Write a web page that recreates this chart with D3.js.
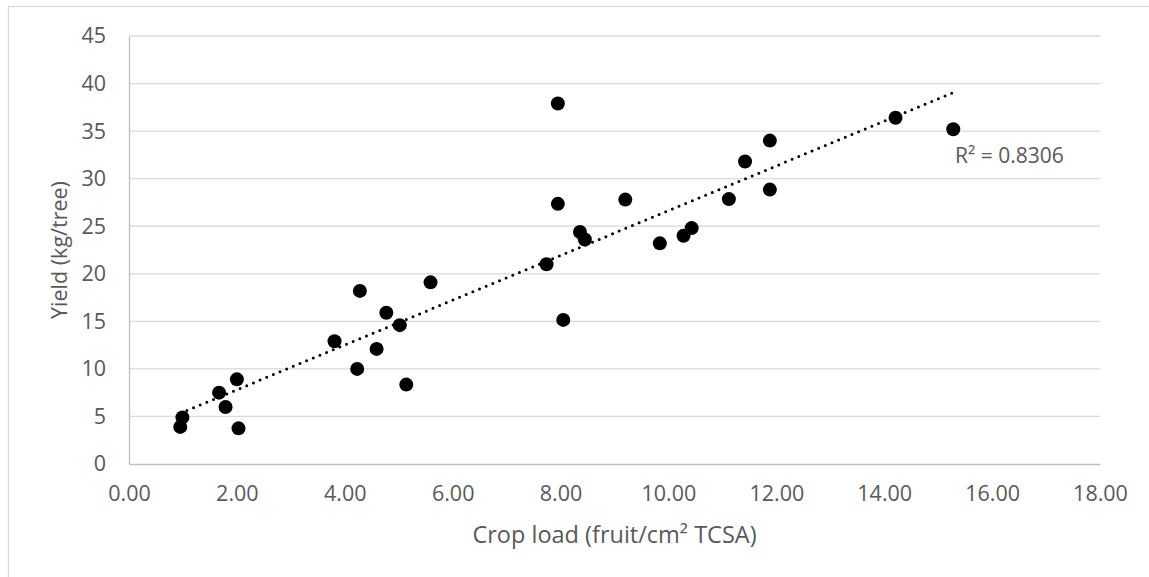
<!DOCTYPE html>
<html>
<head>
<meta charset="utf-8">
<script src="https://cdn.jsdelivr.net/npm/d3@7"></script>
<style>
  body { margin: 0; background: #fff; }
  .tick text { font-family: "Open Sans", sans-serif; fill: #595959; }
  .labels { font-family: "Open Sans", sans-serif; fill: #595959; }
</style>
</head>
<body>
<div id="chart"></div>
<script>
// crop load (fruit/cm2 TCSA) and yield (kg/tree)
var crop_load = [0.95, 0.99, 1.67, 1.79, 2.00, 2.03, 3.81, 4.23, 4.28, 4.59,
                 4.77, 5.02, 5.14, 5.59, 7.74, 7.95, 7.95, 8.05, 8.36, 8.45,
                 9.20, 9.84, 10.28, 10.43, 11.12, 11.42, 11.88, 11.88, 14.21, 15.28]
var yield_kg = [3.9, 4.9, 7.5, 6.0, 8.9, 3.75, 12.9, 10.0, 18.2, 12.1,
                15.9, 14.6, 8.35, 19.1, 21.0, 37.9, 27.35, 15.15, 24.4, 23.6,
                27.8, 23.2, 24.0, 24.8, 27.85, 31.8, 34.0, 28.85, 36.4, 35.2]
var x_ticks = [0, 2, 4, 6, 8, 10, 12, 14, 16, 18]
var y_ticks = [0, 5, 10, 15, 20, 25, 30, 35, 40, 45]
var r_squared = 0.8306

var x_label = "Crop load (fruit/cm² TCSA)"
var y_label = "Yield (kg/tree)"

var W = 1149, H = 577
var plot = {left: 129, right: 1100, top: 36, bottom: 464}

var svg = d3.select("#chart").append("svg")
    .attr("width", W)
    .attr("height", H)

// outer chart border
svg.append("rect")
    .attr("x", 8.5).attr("y", 6.5)
    .attr("width", W + 10).attr("height", H + 10)
    .attr("fill", "none")
    .attr("stroke", "#d9d9d9")
    .attr("stroke-width", 1.3)

var xScale = d3.scaleLinear().domain([0, 18]).range([plot.left, plot.right])
var yScale = d3.scaleLinear().domain([0, 45]).range([plot.bottom, plot.top])

var g = svg.append("g")

// horizontal gridlines
g.append("g")
  .selectAll("line")
  .data(y_ticks.filter(d => d > 0))
  .enter()
  .append("line")
    .attr("x1", plot.left).attr("x2", plot.right)
    .attr("y1", d => yScale(d)).attr("y2", d => yScale(d))
    .attr("stroke", "#d9d9d9")
    .attr("stroke-width", 1.3)

// axes
var x_axis = g.append("g")
    .attr("transform", "translate(0," + plot.bottom + ")")
    .call(d3.axisBottom(xScale).tickValues(x_ticks).tickSize(0).tickPadding(22)
          .tickFormat(d3.format(".2f")))
x_axis.select(".domain").attr("stroke", "#bfbfbf").attr("stroke-width", 1.3)
x_axis.selectAll("text").style("font-size", "21.5px")

var y_axis = g.append("g")
    .attr("transform", "translate(" + plot.left + ",0)")
    .call(d3.axisLeft(yScale).tickValues(y_ticks).tickSize(0).tickPadding(23)
          .tickFormat(d3.format("d")))
y_axis.select(".domain").attr("stroke", "#bfbfbf").attr("stroke-width", 1.3)
y_axis.selectAll("text").style("font-size", "21.5px")

// linear trendline, fitted to the points
var pts = crop_load.map((x, i) => [x, yield_kg[i]])
var mx = d3.mean(crop_load), my = d3.mean(yield_kg)
var sxy = d3.sum(pts, p => (p[0] - mx) * (p[1] - my))
var sxx = d3.sum(pts, p => (p[0] - mx) * (p[0] - mx))
var slope = sxy / sxx
var intercept = my - slope * mx
var ext = d3.extent(crop_load)

g.append("path")
    .datum(ext.map(x => [x, intercept + slope * x]))
    .attr("d", d3.line().x(d => xScale(d[0])).y(d => yScale(d[1])))
    .attr("fill", "none")
    .attr("stroke", "#000")
    .attr("stroke-width", 3)
    .attr("stroke-linecap", "round")
    .attr("stroke-dasharray", "0 7.2")

// points
g.append("g")
  .selectAll("circle")
  .data(pts)
  .enter()
  .append("circle")
    .attr("cx", d => xScale(d[0]))
    .attr("cy", d => yScale(d[1]))
    .attr("r", 7)
    .attr("fill", "#000")

// R² label
g.append("text")
    .attr("class", "labels")
    .attr("x", 955)
    .attr("y", 163)
    .style("font-size", "21px")
    .text("R² = " + r_squared)

// axis titles
g.append("text")
    .attr("class", "labels")
    .attr("x", (plot.left + plot.right) / 2)
    .attr("y", 543)
    .attr("text-anchor", "middle")
    .style("font-size", "23.5px")
    .text(x_label)

g.append("text")
    .attr("class", "labels")
    .attr("transform", "translate(67," + ((plot.top + plot.bottom) / 2) + ")rotate(-90)")
    .attr("text-anchor", "middle")
    .style("font-size", "21.5px")
    .text(y_label)
</script>
</body>
</html>
